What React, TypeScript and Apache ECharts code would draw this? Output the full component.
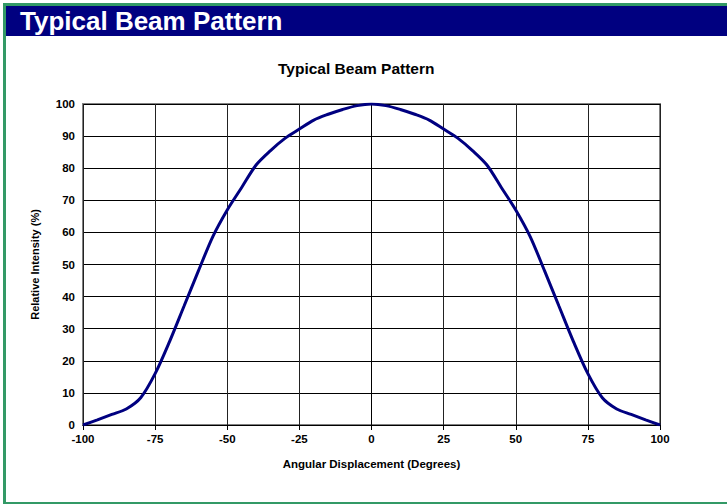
import React, { useEffect, useRef } from "react";
import * as echarts from "echarts";

const headerTitle = "Typical Beam Pattern";
const chartTitle = "Typical Beam Pattern";
const xAxisName = "Angular Displacement (Degrees)";
const yAxisName = "Relative Intensity (%)";

const angles = [
  -100, -95, -90, -85, -80, -75, -70, -65, -60, -55, -50, -45, -40, -35, -30, -25, -20, -15, -10, -5,
  0, 5, 10, 15, 20, 25, 30, 35, 40, 45, 50, 55, 60, 65, 70, 75, 80, 85, 90, 95, 100,
];
const intensity = [
  0, 1.6, 3.3, 5.0, 8.5, 16, 26, 37, 48, 58.7, 67, 74, 81, 85.5, 89.3, 92.2, 95, 96.8, 98.3, 99.5,
  100, 99.5, 98.3, 96.8, 95, 92.2, 89.3, 85.5, 81, 74, 67, 58.7, 48, 37, 26, 16, 8.5, 5.0, 3.3, 1.6, 0,
];

const FONT = "'Liberation Sans', Arial, sans-serif";

export default function App() {
  const ref = useRef<HTMLDivElement>(null);
  useEffect(() => {
    if (!ref.current) return;
    const chart = echarts.init(ref.current, undefined, { renderer: "svg" });
    const data = angles.map((a, i) => [a, intensity[i]]);
    chart.setOption({
      animation: false,
      backgroundColor: "#ffffff",
      title: {
        text: chartTitle,
        left: 273,
        top: 55,
        textStyle: { fontFamily: FONT, fontSize: 15.5, fontWeight: "bold", color: "#000" },
      },
      grid: {
        left: 83,
        top: 104,
        width: 577,
        height: 321,
        show: true,
        borderColor: "#808080",
        borderWidth: 2,
      },
      xAxis: {
        type: "value",
        min: -100,
        max: 100,
        interval: 25,
        name: xAxisName,
        nameLocation: "middle",
        nameGap: 33,
        nameTextStyle: { fontFamily: FONT, fontSize: 11.5, fontWeight: "bold", color: "#000" },
        axisLine: { show: true, onZero: false, lineStyle: { color: "#000", width: 1 } },
        axisTick: { show: true, length: 5, lineStyle: { color: "#000" } },
        axisLabel: { fontFamily: FONT, fontSize: 11.5, fontWeight: "bold", color: "#000", margin: 8 },
        splitLine: { show: true, lineStyle: { color: "#222", width: 1 } },
      },
      yAxis: {
        type: "value",
        min: 0,
        max: 100,
        interval: 10,
        name: yAxisName,
        nameLocation: "middle",
        nameGap: 43,
        nameTextStyle: { fontFamily: FONT, fontSize: 11, fontWeight: "bold", color: "#000" },
        axisLine: { show: true, lineStyle: { color: "#000", width: 1 } },
        axisTick: { show: true, length: 5, lineStyle: { color: "#000" } },
        axisLabel: { fontFamily: FONT, fontSize: 11.5, fontWeight: "bold", color: "#000", margin: 8 },
        splitLine: { show: true, lineStyle: { color: "#000", width: 1 } },
      },
      series: [
        {
          type: "line",
          data,
          smooth: 0.3,
          symbol: "none",
          lineStyle: { color: "#000080", width: 3 },
        },
      ],
      graphic: [
        { type: "rect", shape: { x: 3, y: 3, width: 724, height: 3 }, style: { fill: "#339966" }, z: 10 },
        { type: "rect", shape: { x: 3, y: 3, width: 3, height: 501 }, style: { fill: "#339966" }, z: 10 },
        { type: "rect", shape: { x: 3, y: 502, width: 724, height: 2 }, style: { fill: "#339966" }, z: 10 },
        { type: "rect", shape: { x: 6, y: 6, width: 721, height: 30 }, style: { fill: "#000080" }, z: 10 },
        {
          type: "text",
          x: 20,
          y: 21,
          z: 11,
          style: {
            text: headerTitle,
            fill: "#ffffff",
            font: `bold 26px ${FONT}`,
            verticalAlign: "middle",
          },
        },
      ],
    });
    return () => chart.dispose();
  }, []);
  return (
    <div
      ref={ref}
      style={{ position: "fixed", left: 0, top: 0, width: 727, height: 504, background: "#fff" }}
    />
  );
}
